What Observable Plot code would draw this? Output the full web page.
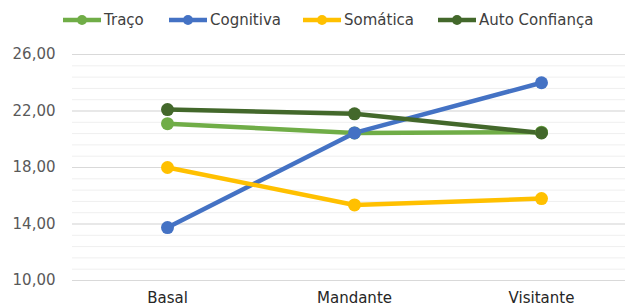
<!DOCTYPE html>
<html>
<head>
<meta charset="utf-8">
<script src="https://cdn.jsdelivr.net/npm/d3@7"></script>
<script src="https://cdn.jsdelivr.net/npm/@observablehq/plot@0.6"></script>
<style>
  html, body { margin: 0; padding: 0; background: #fff; }
  body { width: 625px; height: 307px; overflow: hidden; font-family: "DejaVu Sans", sans-serif; }
  #legend { position: relative; height: 40px; }
  .item { position: absolute; top: 11px; display: flex; align-items: center; font-size: 15px; color: #404040; }
  .item svg { margin-right: 2px; }
</style>
</head>
<body>
<div id="legend"></div>
<div id="chart"></div>
<script>
const categories = ["Basal", "Mandante", "Visitante"];
const seriesNames = ["Traço", "Cognitiva", "Somática", "Auto Confiança"];
const seriesColors = ["#70AD47", "#4472C4", "#FFC000", "#43682B"];
const traco = [21.1, 20.45, 20.5];
const cognitiva = [13.75, 20.45, 24.0];
const somatica = [18.0, 15.35, 15.8];
const autoConfianca = [22.1, 21.8, 20.45];
const yTicks = [10, 14, 18, 22, 26];

const seriesValues = [traco, cognitiva, somatica, autoConfianca];
const rows = [];
seriesNames.forEach((s, i) => categories.forEach((c, j) => rows.push({serie: s, cat: c, value: seriesValues[i][j]})));

// legend
const legendX = [62, 168, 302, 437];
const legend = document.getElementById("legend");
seriesNames.forEach((s, i) => {
  const d = document.createElement("div");
  d.className = "item";
  d.style.left = legendX[i] + "px";
  d.innerHTML = `<svg width="40" height="14"><line x1="1" x2="39" y1="7" y2="7" stroke="${seriesColors[i]}" stroke-width="4.5"/><circle cx="20" cy="7" r="5" fill="${seriesColors[i]}"/></svg><span>${s}</span>`;
  legend.appendChild(d);
});

const minorTicks = d3.range(10, 26.001, 0.8);
const fmt = d => d.toFixed(2).replace(".", ",");

const chart = Plot.plot({
  width: 625,
  height: 267,
  marginLeft: 72,
  marginRight: 0,
  marginTop: 14,
  marginBottom: 27,
  style: {fontFamily: "DejaVu Sans, sans-serif", fontSize: "15px", background: "#fff"},
  x: {type: "point", domain: categories, range: [167, 541], padding: 0},
  y: {domain: [10, 26]},
  color: {domain: seriesNames, range: seriesColors},
  marks: [
    Plot.ruleY(minorTicks, {stroke: "#efefef", strokeWidth: 1}),
    Plot.ruleY(yTicks, {stroke: "#d9d9d9", strokeWidth: 1.2}),
    Plot.axisY({ticks: yTicks, tickFormat: fmt, tickSize: 0, tickPadding: 17, label: null, fill: "#595959"}),
    Plot.axisX({tickSize: 0, tickPadding: 12, label: null, fill: "#262626"}),
    Plot.line(rows, {x: "cat", y: "value", z: "serie", stroke: "serie", strokeWidth: 4.5, strokeLinecap: "round"}),
    Plot.dot(rows, {x: "cat", y: "value", fill: "serie", r: 6.5})
  ]
});
document.getElementById("chart").appendChild(chart);
</script>
</body>
</html>
